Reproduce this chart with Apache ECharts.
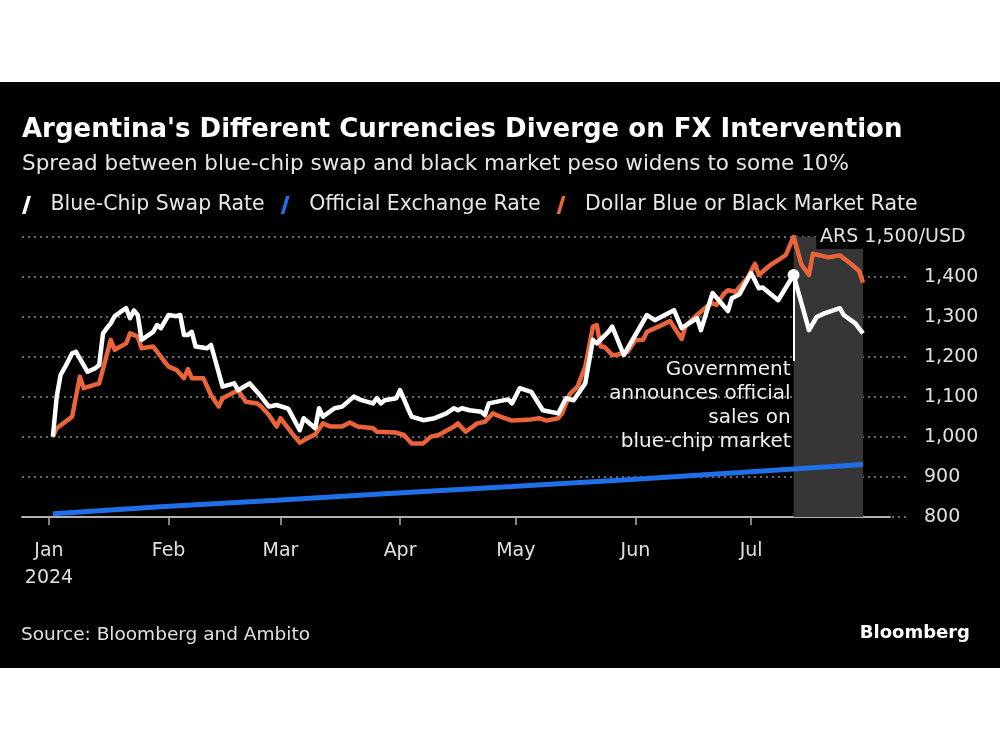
<!DOCTYPE html>
<html><head><meta charset="utf-8">
<script src="https://cdn.jsdelivr.net/npm/echarts@6/dist/echarts.min.js"></script>
<style>html,body{margin:0;padding:0;background:#fff}
#c{width:1000px;height:750px;background:linear-gradient(#fff 0,#fff 82px,#000 82px,#000 668px,#fff 668px,#fff 750px)}</style>
</head><body><div id="c"></div>
<script>
// ---------- DATA ----------
const blueChipDates = ['2024-01-02','2024-01-03','2024-01-04','2024-01-05','2024-01-07','2024-01-08','2024-01-11','2024-01-13','2024-01-14','2024-01-15','2024-01-16','2024-01-17','2024-01-18','2024-01-20','2024-01-21','2024-01-22','2024-01-23','2024-01-24','2024-01-25','2024-01-28','2024-01-29','2024-01-30','2024-02-01','2024-02-03','2024-02-04','2024-02-05','2024-02-06','2024-02-07','2024-02-08','2024-02-11','2024-02-12','2024-02-15','2024-02-18','2024-02-19','2024-02-22','2024-02-25','2024-02-27','2024-02-29','2024-03-03','2024-03-06','2024-03-07','2024-03-10','2024-03-11','2024-03-12','2024-03-15','2024-03-17','2024-03-20','2024-03-22','2024-03-25','2024-03-26','2024-03-27','2024-03-28','2024-03-31','2024-04-01','2024-04-03','2024-04-04','2024-04-07','2024-04-10','2024-04-13','2024-04-15','2024-04-16','2024-04-17','2024-04-19','2024-04-22','2024-04-23','2024-04-24','2024-04-29','2024-04-30','2024-05-02','2024-05-05','2024-05-08','2024-05-12','2024-05-14','2024-05-16','2024-05-19','2024-05-21','2024-05-22','2024-05-25','2024-05-26','2024-05-29','2024-06-04','2024-06-06','2024-06-11','2024-06-13','2024-06-17','2024-06-18','2024-06-21','2024-06-25','2024-06-26','2024-06-28','2024-07-01','2024-07-03','2024-07-04','2024-07-08','2024-07-12','2024-07-16','2024-07-18','2024-07-20','2024-07-24','2024-07-25','2024-07-28','2024-07-30'];
const blueChipValues = [1001,1101,1155,1172,1209,1213,1163,1172,1180,1259,1272,1284,1302,1316,1322,1297,1316,1305,1243,1263,1280,1272,1305,1302,1305,1255,1255,1263,1226,1222,1230,1126,1134,1117,1134,1101,1076,1080,1071,1017,1047,1022,1072,1051,1072,1076,1101,1092,1084,1097,1084,1092,1097,1117,1072,1051,1042,1047,1059,1072,1067,1072,1067,1063,1055,1084,1094,1084,1122,1113,1067,1059,1097,1092,1134,1243,1234,1263,1276,1205,1305,1292,1317,1272,1297,1267,1360,1315,1347,1357,1410,1372,1374,1342,1405,1267,1300,1309,1322,1305,1284,1259];

const officialDates = ['2024-01-02','2024-01-31','2024-02-29','2024-03-28','2024-04-30','2024-05-31','2024-06-28','2024-07-30'];
const officialValues = [808,826,842,858,876,894,911,931];

const blackMarketDates = ['2024-01-02','2024-01-03','2024-01-07','2024-01-09','2024-01-10','2024-01-14','2024-01-17','2024-01-18','2024-01-21','2024-01-22','2024-01-24','2024-01-25','2024-01-28','2024-01-30','2024-01-31','2024-02-01','2024-02-03','2024-02-05','2024-02-06','2024-02-07','2024-02-10','2024-02-12','2024-02-14','2024-02-15','2024-02-19','2024-02-21','2024-02-24','2024-02-25','2024-02-27','2024-02-29','2024-03-01','2024-03-04','2024-03-06','2024-03-08','2024-03-10','2024-03-12','2024-03-14','2024-03-17','2024-03-19','2024-03-21','2024-03-25','2024-03-26','2024-03-31','2024-04-02','2024-04-04','2024-04-07','2024-04-09','2024-04-11','2024-04-15','2024-04-16','2024-04-18','2024-04-21','2024-04-23','2024-04-25','2024-04-27','2024-04-30','2024-05-05','2024-05-07','2024-05-09','2024-05-12','2024-05-13','2024-05-15','2024-05-17','2024-05-19','2024-05-21','2024-05-22','2024-05-23','2024-05-24','2024-05-26','2024-05-27','2024-05-30','2024-06-01','2024-06-03','2024-06-04','2024-06-07','2024-06-10','2024-06-13','2024-06-14','2024-06-17','2024-06-20','2024-06-21','2024-06-22','2024-06-24','2024-06-25','2024-06-27','2024-06-30','2024-07-02','2024-07-03','2024-07-06','2024-07-08','2024-07-10','2024-07-12','2024-07-14','2024-07-16','2024-07-17','2024-07-21','2024-07-24','2024-07-27','2024-07-29','2024-07-30'];
const blackMarketValues = [1001,1022,1051,1151,1122,1134,1243,1218,1234,1259,1251,1222,1226,1201,1188,1176,1168,1147,1170,1147,1147,1105,1076,1097,1117,1088,1084,1076,1055,1026,1047,1009,986,997,1007,1034,1026,1026,1036,1026,1022,1013,1011,1005,984,984,1001,1005,1026,1034,1013,1034,1038,1059,1051,1041,1044,1047,1041,1047,1059,1107,1126,1176,1276,1280,1226,1225,1205,1205,1213,1242,1243,1263,1276,1290,1245,1278,1305,1330,1334,1330,1359,1367,1363,1397,1433,1405,1430,1442,1455,1501,1432,1405,1458,1449,1454,1432,1415,1386];

const monthTicks = ['2024-01-01','2024-02-01','2024-03-01','2024-04-01','2024-05-01','2024-06-01','2024-07-01'];
const monthNames = ['Jan','Feb','Mar','Apr','May','Jun','Jul','Aug','Sep','Oct','Nov','Dec'];
const yTicks = [800,900,1000,1100,1200,1300,1400,1500];
const axisStart = '2023-12-25', axisEnd = '2024-08-06';
const eventDate = '2024-07-12', eventValue = 1405, shadeEnd = '2024-07-30';
const annotationBottom = 1190;
const annotationLines = ['Government','announces official','sales on','blue-chip market'];
const seriesNames = ['Blue-Chip Swap Rate','Official Exchange Rate','Dollar Blue or Black Market Rate'];
const titleText = "Argentina's Different Currencies Diverge on FX Intervention";
const subtitleText = 'Spread between blue-chip swap and black market peso widens to some 10%';
const unitLabel = 'ARS 1,500/USD';
const sourceText = 'Source: Bloomberg and Ambito';
const brandText = 'Bloomberg';

// ---------- CHART ----------
const FONT = '"DejaVu Sans", sans-serif';
const toTs = s => +new Date(s + 'T00:00:00');
const zip = (d, v) => d.map((x, i) => [toTs(x), v[i]]);
const monthTs = monthTicks.map(toTs);
const chart = echarts.init(document.getElementById('c'), null, {renderer: 'canvas'});
const slash = 'path://M6,0 L10,0 L4,20 L0,20 Z';
const gridY = {top: 237, bottom: 233};

chart.setOption({
  backgroundColor: 'transparent',
  animation: false,
  title: [
    {text: titleText, left: 17, top: 108, textStyle: {color: '#fff', fontFamily: FONT, fontWeight: 'bold', fontSize: 26, lineHeight: 34}},
    {text: subtitleText, left: 17, top: 146, textStyle: {color: '#e6e6e6', fontFamily: FONT, fontWeight: 'normal', fontSize: 21.5, lineHeight: 26}}
  ],
  legend: {
    left: 22, top: 193, padding: 0, itemWidth: 10, itemHeight: 18, itemGap: 16,
    data: seriesNames.map(n => ({name: n, icon: slash})),
    textStyle: {color: '#e6e6e6', fontFamily: FONT, fontSize: 20.5, lineHeight: 24, padding: [0, 0, 0, 14]}
  },
  grid: [
    {left: 22, right: 110, top: gridY.top, bottom: gridY.bottom},
    {left: 22, right: 90, top: gridY.top, bottom: gridY.bottom}
  ],
  xAxis: [
    {type: 'value', gridIndex: 0, min: toTs(axisStart), max: toTs(axisEnd),
     axisLine: {show: true, lineStyle: {color: '#b0b0b0', width: 2}},
     axisTick: {show: true, length: 8, lineStyle: {color: '#b0b0b0', width: 1.5}, customValues: monthTs},
     axisLabel: {customValues: monthTs, color: '#e0e0e0', fontFamily: FONT, fontSize: 19, lineHeight: 27, margin: 21,
       formatter: v => { const d = new Date(v); const m = monthNames[d.getMonth()]; return d.getMonth() === 0 ? m + '\n' + d.getFullYear() : m; }},
     splitLine: {show: false}},
    {type: 'value', gridIndex: 1, min: toTs(axisStart), max: toTs(axisEnd), show: false, splitLine: {show: false}}
  ],
  yAxis: [
    {type: 'value', gridIndex: 0, min: 800, max: 1500, interval: 100, show: false, splitLine: {show: false}},
    {type: 'value', gridIndex: 1, min: 800, max: 1500, interval: 100, position: 'right',
     axisLine: {show: false}, axisTick: {show: false},
     splitLine: {show: true, lineStyle: {color: '#8a8a8a', width: 1.5, type: [2, 4]}},
     axisLabel: {color: '#e0e0e0', fontFamily: FONT, fontSize: 19, margin: 14, align: 'left',
       formatter: v => v === yTicks[yTicks.length - 1] ? '' : v.toLocaleString('en-US')}}
  ],
  series: [
    {name: seriesNames[0], type: 'line', xAxisIndex: 0, yAxisIndex: 0, z: 5, showSymbol: false,
     data: zip(blueChipDates, blueChipValues), color: '#ffffff',
     lineStyle: {color: '#ffffff', width: 4.5, join: 'round'},
     markPoint: {silent: true, symbol: 'circle', symbolSize: 12, itemStyle: {color: '#fff'}, label: {show: false},
       data: [{coord: [toTs(eventDate), eventValue]}]},
     markLine: {silent: true, symbol: ['none', 'none'], lineStyle: {color: '#fff', width: 2, type: 'solid'}, label: {show: false},
       data: [[{coord: [toTs(eventDate), eventValue]}, {coord: [toTs(eventDate), annotationBottom]}]]}},
    {name: seriesNames[1], type: 'line', xAxisIndex: 0, yAxisIndex: 0, z: 3, showSymbol: false,
     data: zip(officialDates, officialValues), color: '#1f6fe6',
     lineStyle: {color: '#1f6fe6', width: 5},
     markArea: {silent: true, itemStyle: {color: '#363636'},
       data: [[{xAxis: toTs(eventDate), yAxis: 800}, {xAxis: toTs(shadeEnd), yAxis: 1500}]]}},
    {name: seriesNames[2], type: 'line', xAxisIndex: 0, yAxisIndex: 0, z: 4, showSymbol: false,
     data: zip(blackMarketDates, blackMarketValues), color: '#ea6439',
     lineStyle: {color: '#ea6439', width: 4.5, join: 'round'}}
  ]
});

const pAnn = chart.convertToPixel({gridIndex: 0}, [toTs(eventDate), annotationBottom]);
const yTop = chart.convertToPixel({yAxisIndex: 1}, yTicks[yTicks.length - 1]);
chart.setOption({
  graphic: [
    {type: 'text', left: 816, top: yTop - 11, z: 10,
     style: {text: unitLabel, fill: '#e0e0e0', font: '19px ' + FONT, backgroundColor: '#000', padding: [2, 4, 2, 4]}},
    {type: 'text', x: pAnn[0] - 3, y: pAnn[1] - 3, z: 10,
     style: {text: annotationLines.join('\n'), fill: '#f0f0f0', font: '20px ' + FONT, align: 'right', verticalAlign: 'top', lineHeight: 24}},
    {type: 'text', left: 21, top: 626, style: {text: sourceText, fill: '#e0e0e0', font: '18.5px ' + FONT}},
    {type: 'text', right: 30, top: 624, style: {text: brandText, fill: '#fff', font: 'bold 18px ' + FONT}}
  ]
});
</script></body></html>
